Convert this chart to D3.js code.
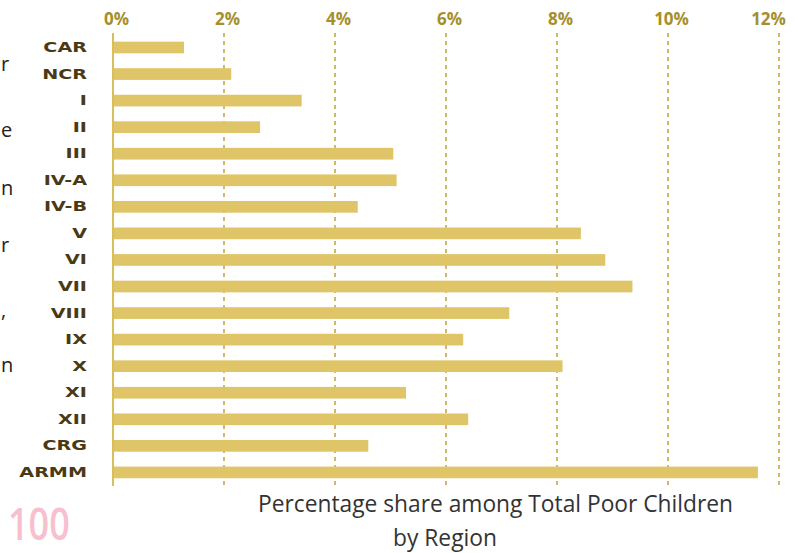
<!DOCTYPE html>
<html>
<head>
<meta charset="utf-8">
<script src="https://cdn.jsdelivr.net/npm/d3@7"></script>
<style>
  html, body { margin: 0; padding: 0; background: #fff; }
  svg { display: block; }
</style>
</head>
<body>
<svg id="chart" width="798" height="553"></svg>
<script>
const regions = ["CAR","NCR","I","II","III","IV-A","IV-B","V","VI","VII","VIII","IX","X","XI","XII","CRG","ARMM"];
const shares = [1.28, 2.13, 3.40, 2.65, 5.05, 5.11, 4.41, 8.43, 8.87, 9.36, 7.14, 6.31, 8.10, 5.28, 6.40, 4.60, 11.62];
const tickValues = [0, 2, 4, 6, 8, 10, 12];
const titleLines = ["Percentage share among Total Poor Children", "by Region"];
const sideFragments = ["r", "e", "n", "r", ",", "n"];
const pageNumber = "100";

const svg = d3.select("#chart");
const x = d3.scaleLinear().domain([0, 12]).range([113, 779]);
const y = d3.scaleBand().domain(regions).range([34.2, 485.7]).paddingInner(0.56).paddingOuter(0.28);

// gridlines (dashed) for non-zero ticks
svg.append("g").selectAll("line")
  .data(tickValues.filter(d => d > 0))
  .join("line")
  .attr("x1", d => x(d)).attr("x2", d => x(d))
  .attr("y1", 33).attr("y2", 486)
  .attr("stroke", "#c2a848").attr("stroke-width", 1.6)
  .attr("stroke-dasharray", "4,4");

// top axis labels
const axis = d3.axisTop(x).tickValues(tickValues).tickFormat(d => d + "%").tickSize(0).tickPadding(0);
const ag = svg.append("g").attr("transform", "translate(0,25)").call(axis);
ag.select(".domain").remove();
ag.selectAll("text")
  .attr("dy", 0)
  .attr("dx", d => d === 12 ? -11 : 3)
  .attr("font-family", "'Open Sans', sans-serif")
  .attr("font-weight", 700).attr("font-size", 17)
  .attr("fill", "#a58f2c");

// bars
svg.append("g").selectAll("rect")
  .data(regions)
  .join("rect")
  .attr("x", x(0))
  .attr("y", d => y(d))
  .attr("height", y.bandwidth())
  .attr("width", (d, i) => x(shares[i]) - x(0))
  .attr("fill", "#dfc567");

// zero axis line
svg.append("line")
  .attr("x1", x(0)).attr("x2", x(0))
  .attr("y1", 33).attr("y2", 486)
  .attr("stroke", "#d8bf5c").attr("stroke-width", 2);

// category labels
svg.append("g").selectAll("text")
  .data(regions)
  .join("text")
  .attr("transform", d => `translate(87,${y(d) + y.bandwidth() / 2}) scale(1.42,1)`)
  .attr("text-anchor", "end")
  .attr("dominant-baseline", "central")
  .attr("font-family", "'DejaVu Sans', sans-serif")
  .attr("font-weight", 700).attr("font-size", 13.5)
  .attr("fill", "#4a3a14")
  .text(d => d);

// text fragments at left edge (remains of neighbouring text)
const fragY = [64, 130, 188, 245, 310, 365];
svg.append("g").selectAll("text")
  .data(sideFragments)
  .join("text")
  .attr("x", 1)
  .attr("y", (d, i) => fragY[i] + 7)
  .attr("font-family", "'Open Sans', sans-serif")
  .attr("font-size", 20)
  .attr("fill", "#222")
  .text(d => d);

// title
svg.append("text")
  .attr("x", 258).attr("y", 512)
  .attr("font-family", "'Open Sans', sans-serif")
  .attr("font-size", 24)
  .attr("fill", "#333")
  .attr("textLength", 475).attr("lengthAdjust", "spacingAndGlyphs")
  .text(titleLines[0]);
svg.append("text")
  .attr("x", 393).attr("y", 546)
  .attr("font-family", "'Open Sans', sans-serif")
  .attr("font-size", 24)
  .attr("fill", "#333")
  .attr("textLength", 104).attr("lengthAdjust", "spacingAndGlyphs")
  .text(titleLines[1]);

// page number
svg.append("text")
  .attr("transform", "translate(8,540) scale(0.9,1.15)")
  .attr("font-family", "'Open Sans', sans-serif")
  .attr("font-size", 40).attr("font-weight", 600)
  .attr("fill", "#f7c0cf")
  .text(pageNumber);
</script>
</body>
</html>
